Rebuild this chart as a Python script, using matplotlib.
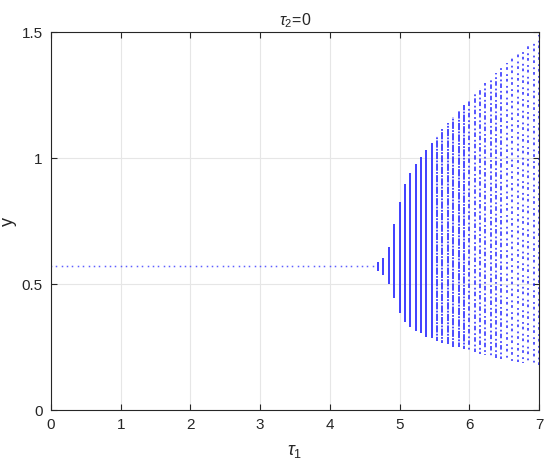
import numpy as np
import matplotlib
matplotlib.use("Agg")
import matplotlib.pyplot as plt

plt.rcParams['font.family'] = ['Liberation Sans', 'DejaVu Sans']
plt.rcParams['mathtext.fontset'] = 'custom'
plt.rcParams['mathtext.it'] = 'Liberation Sans:italic'
plt.rcParams['mathtext.rm'] = 'Liberation Sans'

# parameter sweep: tau1 = k * 7/91, k = 0..91
n_steps = 91
tau_max = 7.0

# steady state (k = 0..60)
steady_k = list(range(0, 61))
steady_y = 0.572

# oscillating region (k = 61..91): min / max of y
osc_k = list(range(61, 92))
osc_ymin = [0.553, 0.536, 0.500, 0.445, 0.386, 0.350, 0.328, 0.315, 0.304, 0.291,
            0.284, 0.275, 0.265, 0.261, 0.251, 0.249, 0.241, 0.235, 0.231, 0.222,
            0.218, 0.212, 0.205, 0.201, 0.198, 0.192, 0.189, 0.186, 0.185, 0.183,
            0.179]
osc_ymax = [0.588, 0.604, 0.648, 0.740, 0.827, 0.896, 0.939, 0.975, 1.003, 1.032,
            1.061, 1.089, 1.114, 1.138, 1.161, 1.185, 1.209, 1.230, 1.257, 1.276,
            1.296, 1.316, 1.336, 1.356, 1.376, 1.395, 1.413, 1.431, 1.448, 1.468,
            1.488]

xticks = [0, 1, 2, 3, 4, 5, 6, 7]
yticks = [0, 0.5, 1, 1.5]
ytick_labels = ['0', '0.5', '1', '1.5']

fig = plt.figure(figsize=(5.5, 4.71), dpi=100)
ax = fig.add_axes([0.0927, 0.1295, 0.8873, 0.8025])

steady_tau = [k * tau_max / n_steps for k in steady_k]
ax.plot(steady_tau, [steady_y] * len(steady_tau), linestyle='none', marker='s',
        markersize=1.1, markeredgewidth=0, color='#4d4dff', alpha=0.9)

osc_tau = [k * tau_max / n_steps for k in osc_k]
for i, (t, lo, hi) in enumerate(zip(osc_tau, osc_ymin, osc_ymax)):
    off = (i * 0.7) % 3
    if t < 5.5:
        ls = 'solid'
        alpha = 0.9
    elif t < 6.0:
        ls = (off, (4, 0.7, 1, 0.7))
        alpha = 0.85
    elif t < 6.5:
        ls = (off, (2.5, 1.2, 1, 1.6))
        alpha = 0.8
    else:
        ls = (off, (1.5, 1.6, 1, 2.4))
        alpha = 0.8
    ax.vlines(t, lo, hi, colors='#1a1aff', linewidth=1.3, linestyles=[ls], alpha=alpha)

ax.set_xlim(0, 7)
ax.set_ylim(0, 1.5)
ax.set_xticks(xticks)
ax.set_yticks(yticks)
ax.set_yticklabels(ytick_labels)
ax.grid(True, color='#e6e6e6', linewidth=0.8)
ax.set_axisbelow(True)
ax.tick_params(direction='in', top=True, right=True, labelsize=11,
               colors='#262626', length=4, width=0.8, pad=6)
for s in ax.spines.values():
    s.set_color('#262626')
    s.set_linewidth(0.8)

ax.set_xlabel(r'$\tau_1$', fontsize=13, color='#262626', labelpad=8)
ax.set_ylabel('y', fontsize=13, color='#262626')
ax.yaxis.set_label_coords(-0.07, 0.5)
ax.set_title(r'$\tau_2$=0', fontsize=11.5, color='#262626', pad=5)

fig.savefig('out.png', dpi=100)
